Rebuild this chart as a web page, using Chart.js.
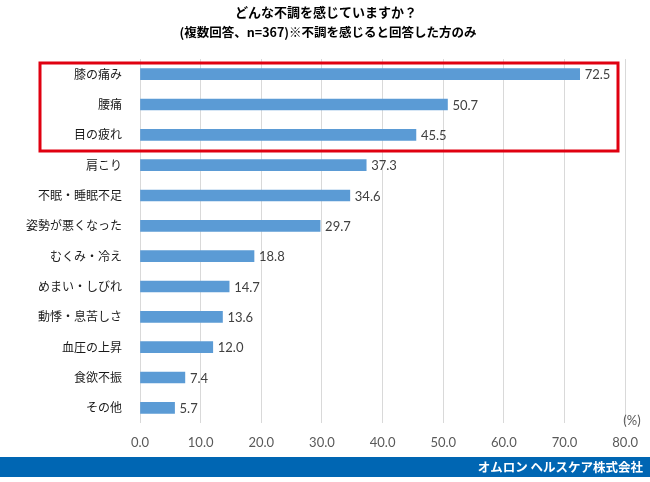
<!DOCTYPE html>
<html lang="ja">
<head>
  <meta charset="UTF-8" />
  <title>どんな不調を感じていますか？</title>
  <script src="https://cdn.jsdelivr.net/npm/chart.js"></script>
  <style>
    body {
      margin: 0;
      background: #ffffff;
      overflow: hidden;
    }
    .wrap {
      width: 650px;
      height: 482px;
      position: relative;
    }
  </style>
</head>
<body>
  <div class="wrap">
    <canvas id="chart" width="650" height="482"></canvas>
  </div>

  <script>
    const categories = ['膝の痛み', '腰痛', '目の疲れ', '肩こり', '不眠・睡眠不足', '姿勢が悪くなった',
      'むくみ・冷え', 'めまい・しびれ', '動悸・息苦しさ', '血圧の上昇', '食欲不振', 'その他'];
    const values = [72.5, 50.7, 45.5, 37.3, 34.6, 29.7, 18.8, 14.7, 13.6, 12.0, 7.4, 5.7];
    const xTicks = [0, 10, 20, 30, 40, 50, 60, 70, 80];
    const highlighted = ['膝の痛み', '腰痛', '目の疲れ'];

    const titleText = 'どんな不調を感じていますか？';
    const subtitleText = '(複数回答、n=367)※不調を感じると回答した方のみ';
    const footerText = 'オムロン ヘルスケア株式会社';
    const unitText = '(%)';

    const jp = '"Noto Sans CJK JP", "Noto Sans", sans-serif';
    const num = 'Lato, "Liberation Sans", sans-serif';

    // titles, red box, data labels, footer band
    const extras = {
      id: 'extras',
      afterDatasetsDraw(chart) {
        const { ctx, chartArea } = chart;
        const y = chart.scales.y;
        const meta = chart.getDatasetMeta(0);

        ctx.save();
        // value labels
        ctx.font = '13px ' + num;
        ctx.fillStyle = '#404040';
        ctx.textAlign = 'left';
        ctx.textBaseline = 'middle';
        meta.data.forEach((bar, i) => {
          ctx.fillText(values[i].toFixed(1), bar.x + 5, bar.y + 1);
        });

        // red highlight box around the top three rows
        const rowH = (chartArea.bottom - chartArea.top) / categories.length;
        const first = categories.indexOf(highlighted[0]);
        const last = categories.indexOf(highlighted[highlighted.length - 1]);
        const top = y.getPixelForValue(first) - rowH / 2 + 4;
        const bottom = y.getPixelForValue(last) + rowH / 2 + 1;
        ctx.strokeStyle = '#e00010';
        ctx.lineWidth = 3;
        ctx.strokeRect(40, top, 578, bottom - top);

        // titles
        ctx.fillStyle = '#000000';
        ctx.textAlign = 'center';
        ctx.font = 'bold 13px ' + jp;
        ctx.fillText(titleText, 326, 12);
        ctx.font = 'bold 12.5px ' + jp;
        ctx.fillText(subtitleText, 328, 32);

        // unit
        ctx.font = '13px ' + num;
        ctx.fillStyle = '#595959';
        ctx.fillText(unitText, 632, 421);

        // footer band
        ctx.fillStyle = '#0066b3';
        ctx.fillRect(0, 457, 650, 20);
        ctx.fillStyle = '#ffffff';
        ctx.textAlign = 'right';
        ctx.font = 'bold 12.5px ' + jp;
        ctx.fillText(footerText, 643, 467);
        ctx.restore();
      }
    };

    const ctx = document.getElementById('chart').getContext('2d');
    const chart = new Chart(ctx, {
      type: 'bar',
      data: {
        labels: categories,
        datasets: [{
          data: values,
          backgroundColor: '#5b9bd5',
          barThickness: 11
        }]
      },
      options: {
        indexAxis: 'y',
        responsive: false,
        animation: false,
        layout: { padding: { top: 59, right: 18, bottom: 29, left: 0 } },
        plugins: {
          legend: { display: false },
          tooltip: { enabled: false }
        },
        scales: {
          x: {
            min: 0,
            max: 80,
            afterBuildTicks: (scale) => { scale.ticks = xTicks.map(v => ({ value: v })); },
            afterFit: (scale) => { scale.height = 30; },
            grid: { color: '#d9d9d9', drawTicks: false },
            border: { display: false },
            ticks: {
              padding: 12,
              color: '#595959',
              font: { size: 13, family: num },
              callback: (v) => Number(v).toFixed(1)
            }
          },
          y: {
            afterFit: (scale) => { scale.width = 140; },
            grid: { display: false, drawTicks: false },
            border: { display: false },
            ticks: {
              padding: 18,
              color: '#1a1a1a',
              font: { size: 12, family: jp }
            }
          }
        }
      },
      plugins: [extras]
    });
  </script>
</body>
</html>
